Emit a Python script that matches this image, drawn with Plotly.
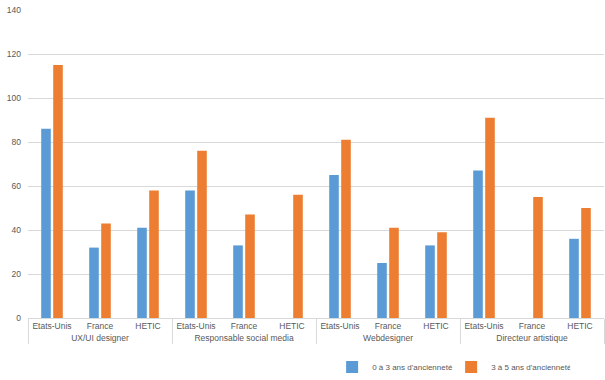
import plotly.graph_objects as go

groups = ["UX/UI designer", "Responsable social media", "Webdesigner", "Directeur artistique"]
subcats = ["Etats-Unis", "France", "HETIC"]
series_names = ["0 à 3 ans d'ancienneté", "3 à 5 ans d'ancienneté"]
vals_0_3 = [86, 32, 41, 58, 33, None, 65, 25, 33, 67, None, 36]
vals_3_5 = [115, 43, 58, 76, 47, 56, 81, 41, 39, 91, 55, 50]
colors = ["#5B9BD5", "#ED7D31"]
y_ticks = [0, 20, 40, 60, 80, 100, 120, 140]

x_outer = [g for g in groups for _ in subcats]
x_inner = [s for _ in groups for s in subcats]

fig = go.Figure()
for name, vals, c in zip(series_names, [vals_0_3, vals_3_5], colors):
    fig.add_trace(go.Bar(x=[x_outer, x_inner], y=vals, name=name, marker_color=c,
                         marker_line_width=0))

font = dict(family="Liberation Sans, Arial, sans-serif", size=8.5, color="#595959")
fig.update_layout(
    width=605, height=380,
    margin=dict(l=28, r=1, t=10, b=62, autoexpand=False),
    plot_bgcolor="white", paper_bgcolor="white",
    font=font,
    barmode="group", bargap=0.5, bargroupgap=0.2,
    legend=dict(orientation="h", x=0.528, xanchor="left", y=-0.112, yanchor="top",
                font=dict(size=8, color="#595959"), itemwidth=30,
                entrywidth=74, entrywidthmode="pixels",
                traceorder="normal", tracegroupgap=0),
    showlegend=True,
)
fig.update_yaxes(range=[0, 140], tickvals=y_ticks, showgrid=True, gridcolor="#D9D9D9",
                 gridwidth=1, zeroline=False, showline=False, ticks="",
                 tickfont=dict(size=8.5, color="#595959"), ticklabelstandoff=6)
fig.update_xaxes(showline=True, linecolor="#D9D9D9", linewidth=1,
                 ticks="", tickangle=0,
                 showdividers=True, dividercolor="#D9D9D9", dividerwidth=1,
                 tickfont=dict(size=8.5, color="#595959"))
fig.write_html("out.html", post_script="document.body.style.margin='0';",
               config={"displayModeBar": False})
